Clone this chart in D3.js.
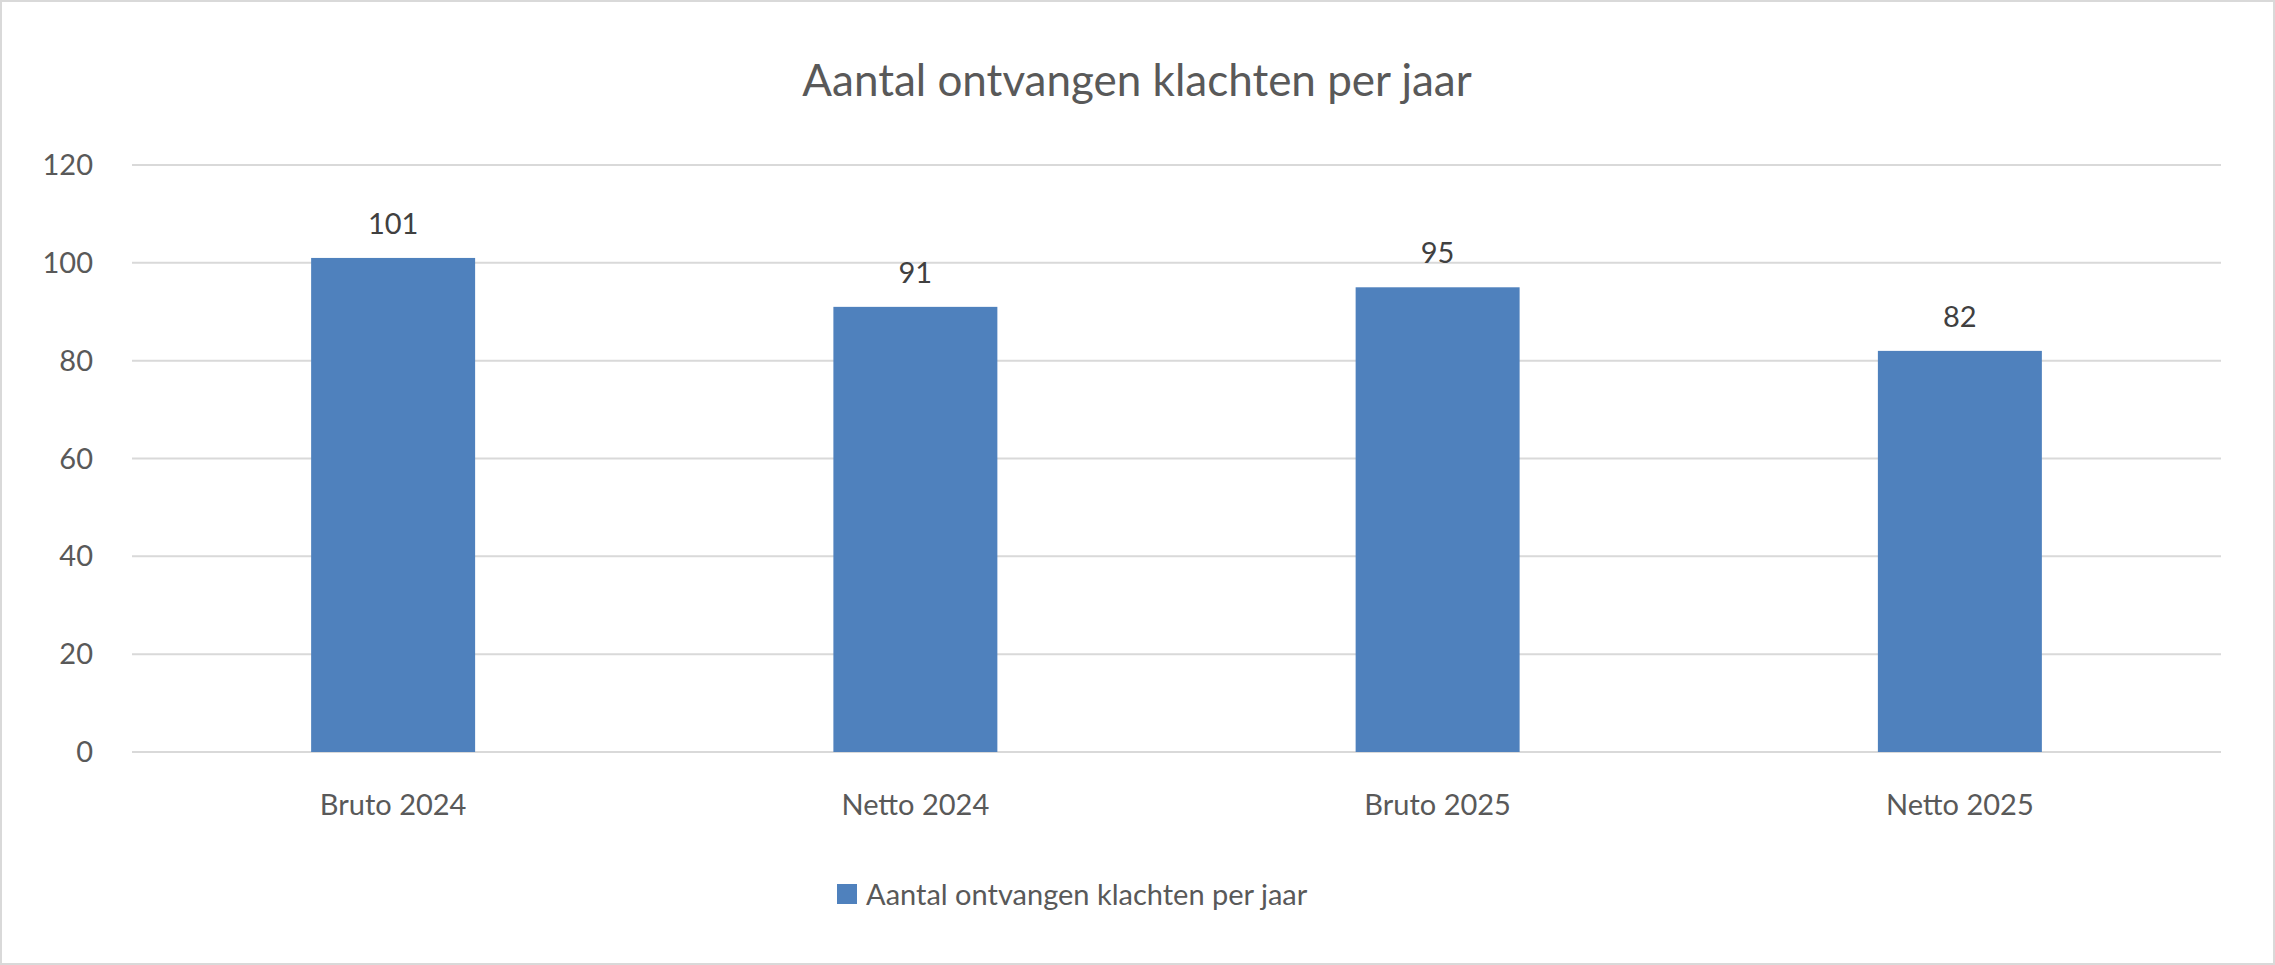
<!DOCTYPE html>
<html><head><meta charset="utf-8">
<script src="https://cdn.jsdelivr.net/npm/d3@7"></script>
<style>body{margin:0;background:#fff}text{font-family:Lato,"Open Sans",sans-serif;fill:#595959}</style>
</head><body><svg id="c" width="2275" height="965"></svg>
<script>
const categories = ["Bruto 2024","Netto 2024","Bruto 2025","Netto 2025"];
const values = [101,91,95,82];
const yTicks = [0,20,40,60,80,100,120];
const title = "Aantal ontvangen klachten per jaar";
const seriesName = "Aantal ontvangen klachten per jaar";

const svg = d3.select("#c");
svg.append("rect").attr("x",1).attr("y",1).attr("width",2273).attr("height",963).attr("fill","#fff").attr("stroke","#d9d9d9").attr("stroke-width",2);
const L=132,R=2221,T=165,B=752;
const x = d3.scaleBand().domain(categories).range([L,R]).paddingInner(0.686).paddingOuter(0.343);
const y = d3.scaleLinear().domain([0,120]).range([B,T]);
svg.append("g").selectAll("line").data(yTicks).join("line")
 .attr("x1",L).attr("x2",R).attr("y1",d=>y(d)).attr("y2",d=>y(d)).attr("stroke","#d9d9d9").attr("stroke-width",2);
svg.append("g").selectAll("text").data(yTicks).join("text")
 .attr("x",93).attr("y",d=>y(d)).attr("dy","0.35em").attr("text-anchor","end").attr("font-size",29).text(d=>d);
svg.append("g").selectAll("rect").data(values).join("rect")
 .attr("x",(d,i)=>x(categories[i])).attr("width",x.bandwidth()).attr("y",d=>y(d)).attr("height",d=>B-y(d)).attr("fill","#4f81bd");
svg.append("g").selectAll("text").data(values).join("text")
 .attr("x",(d,i)=>x(categories[i])+x.bandwidth()/2).attr("y",d=>y(d)-24).attr("text-anchor","middle").attr("font-size",29).attr("fill","#404040").style("fill","#404040").text(d=>d);
svg.append("g").selectAll("text").data(categories).join("text")
 .attr("x",d=>x(d)+x.bandwidth()/2).attr("y",815).attr("text-anchor","middle").attr("font-size",29).text(d=>d);
svg.append("text").attr("x",1137).attr("y",96).attr("text-anchor","middle").attr("font-size",44).text(title);
svg.append("rect").attr("x",837).attr("y",884).attr("width",20).attr("height",20).attr("fill","#4f81bd");
svg.append("text").attr("x",866).attr("y",905).attr("font-size",29).text(seriesName);
</script></body></html>
